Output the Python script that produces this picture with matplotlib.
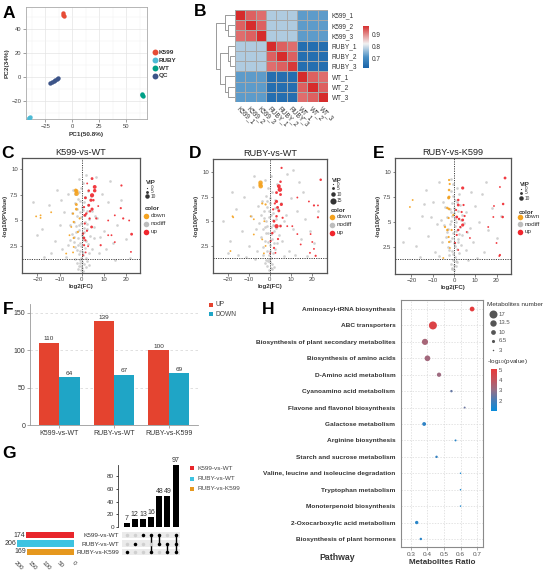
import numpy as np
import matplotlib
matplotlib.use('Agg')
import matplotlib.pyplot as plt
from matplotlib.colors import LinearSegmentedColormap

plt.rcParams['font.family'] = ['Liberation Sans', 'DejaVu Sans']
plt.rcParams['axes.linewidth'] = 0.6

# ======================= DATA =======================
# --- A: PCA ---
pca_groups = ['K599', 'RUBY', 'WT', 'QC']
pca_colors = ['#E64B35', '#4DBBD5', '#00A087', '#3C5488']
pc1_k599 = [-8.8, -8.5, -8.2]
pc2_k599 = [53.5, 52.0, 50.5]
pc1_ruby = [-40.6, -40.0, -39.4]
pc2_ruby = [-34.4, -34.0, -33.6]
pc1_wt = [64.0, 64.8, 65.4]
pc2_wt = [-14.2, -15.0, -15.8]
pc1_qc = [-20.5, -19.0, -17.5, -16.0, -14.5, -13.5]
pc2_qc = [-4.6, -3.9, -3.1, -2.4, -1.7, -1.1]

# --- B: correlation heatmap ---
samples = ['K599_1', 'K599_2', 'K599_3', 'RUBY_1', 'RUBY_2', 'RUBY_3', 'WT_1', 'WT_2', 'WT_3']
corr = [
    [0.97, 0.93, 0.92, 0.775, 0.775, 0.775, 0.72, 0.72, 0.72],
    [0.93, 0.97, 0.93, 0.775, 0.775, 0.775, 0.72, 0.72, 0.72],
    [0.92, 0.93, 0.97, 0.775, 0.775, 0.775, 0.72, 0.72, 0.72],
    [0.775, 0.775, 0.775, 0.97, 0.93, 0.92, 0.64, 0.64, 0.64],
    [0.775, 0.775, 0.775, 0.93, 0.97, 0.93, 0.64, 0.64, 0.64],
    [0.775, 0.775, 0.775, 0.92, 0.93, 0.96, 0.64, 0.64, 0.64],
    [0.72, 0.72, 0.72, 0.64, 0.64, 0.64, 0.97, 0.93, 0.92],
    [0.72, 0.72, 0.72, 0.64, 0.64, 0.64, 0.93, 0.97, 0.93],
    [0.72, 0.72, 0.72, 0.64, 0.64, 0.64, 0.92, 0.93, 0.97],
]
# dendrogram: (height, left, right)
row_tree = (1.0,
            (0.55, 'K599_1', (0.35, 'K599_2', 'K599_3')),
            (0.78, (0.35, 'RUBY_1', (0.25, 'RUBY_2', 'RUBY_3')),
                   (0.55, 'WT_1', (0.35, 'WT_2', 'WT_3'))))

# --- C/D/E: volcano plots (x=log2FC, y=-log10 P, vip) ---
c_gray = [(-0.5,0.2),(0.3,0.4),(-1.2,0.6),(1.0,0.8),(0.2,1.0),(-0.8,1.2),(1.8,0.5),(-2.0,0.9),(2.5,1.1),(-0.3,1.4),
          (0.6,0.1),(-1.5,0.3),(3.2,0.7),(-3.0,1.3),(-1.0,1.7),(0.8,1.9),(-2.2,2.1),(1.5,2.3),(-0.4,2.5),(2.8,2.7),
          (-3.5,2.9),(0.4,3.1),(-1.8,3.3),(3.9,3.5),(-4.2,3.7),(1.2,3.9),(-0.7,2.0),(2.0,3.0),(-2.8,2.4),(4.5,2.2),
          (-5.1,3.1),(0.0,3.6),(5.5,3.3),(-6.0,2.6),(-1.3,4.1),(0.9,4.3),(-2.5,4.5),(2.2,4.7),(-3.6,4.9),(3.4,5.1),
          (-0.5,5.3),(1.6,5.5),(-4.5,5.7),(4.8,5.9),(-1.9,6.1),(0.3,6.3),(2.7,6.5),(-3.0,6.7),(-0.9,6.9),(5.6,4.4),
          (-5.5,4.6),(6.2,5.4),(-1.6,7.1),(1.4,7.3),(-2.8,7.6),(3.0,7.9),(-0.4,8.2),(0.8,8.6),(-1.1,9.0),(2.1,9.4),
          (-4.0,8.0),(4.2,7.4),(-12,3.0),(-15,6.5),(-9,2.2),(-18,4.2),(-8,5.8),(-11,8.0),(-22,6.8),(-7,1.5),
          (-14,1.8),(-10,4.6),(8,1.8),(10,4.0),(12,6.8),(14,2.8),(9,7.6),(16,4.6),(11,2.2),(7,5.2),
          (18,7.0),(20,3.2),(13,8.8),(-6,7.6),(6.5,9.2),(-17,1.5),(22,1.4),(-20,3.6),(15,1.2),(8.5,3.4),(-9.5,7.0),
          (-0.2,0.6),(0.4,1.6),(-0.9,2.8),(0.7,3.4),(-1.4,4.6),(1.3,4.9),(-0.6,5.8),(0.5,6.0),(-1.7,2.6),(1.9,1.4),
          (-2.4,3.9),(2.5,4.2),(-0.1,4.8),(-2.1,5.4),(2.3,5.9),(-1.2,7.8),(1.1,6.8),(-3.3,3.4),(3.1,1.8),(-0.8,0.9)]
c_up = [(4.7,9.07,5),(5.9,8.26,8),(5.9,7.9,7),(4.7,7.45,9),(3.2,7.9,4),(1.7,7.2,5),(4.2,6.97,6),(5.3,6.97,4),
        (3.2,6.48,5),(1.06,6.3,3),(4.7,6.1,6),(2.1,5.67,4),(1.4,5.5,5),(3.6,5.2,3),(6.6,5.2,3),(1.4,4.7,3),
        (4.5,4.37,5),(0.6,3.73,4),(1.7,3.08,3),(1.1,2.6,3),(2.9,2.5,2),(0.6,1.63,2),(1.8,1.9,2),(8.6,2.6,3),
        (12,5.0,2),(12,3.57,2),(13.5,3.57,2),(15,2.9,2),(17.7,6.2,3),(18.8,5.2,3),(21.5,5.0,2),(22.6,3.67,5),
        (22.3,1.95,2),(18,8.4,3),(15,5.5,2),(2.5,8.6,2),(3.8,5.9,4),(2.4,4.0,3),(7.5,6.4,2),(1.0,3.3,5)]
c_down = [(-2.4,7.85,9),(-2.3,7.6,10),(-2.7,7.95,6),(-2.4,6.55,5),(-2.4,6.1,5),(-3.9,5.67,3),(-3.6,4.86,3),
          (-4.7,4.37,2),(-1.7,3.89,3),(-3.6,3.3,3),(-3.6,2.43,2),(-7,1.79,2),(-3.9,1.9,2),(-20.6,5.4,2),
          (-18.6,5.5,2),(-18.6,5.25,2),(-13.8,5.8,2),(-5.5,3.57,2),(-0.9,5.2,3)]

d_gray = [(-0.3,0.1),(0.5,0.3),(-1.0,0.5),(1.2,0.7),(0.0,0.9),(-1.6,1.1),(2.0,0.4),(-2.4,0.8),(0.8,1.3),(-0.5,1.6),
          (1.6,1.8),(-1.3,2.0),(2.6,2.2),(-3.0,2.4),(0.2,2.6),(3.5,2.8),(-2.0,3.0),(1.0,3.2),(-4.0,3.4),(4.4,3.6),
          (-0.8,3.8),(2.2,4.0),(-3.3,4.2),(0.6,4.4),(5.0,4.6),(-5.0,4.8),(-1.8,5.0),(3.0,5.2),(-0.2,5.4),(-4.2,5.6),
          (1.8,5.8),(-2.6,6.0),(4.0,6.2),(-1.0,6.4),(0.4,6.8),(-3.6,7.0),(2.6,7.2),(-1.5,7.6),(1.2,8.0),(-0.6,8.4),
          (3.6,8.8),(-2.2,9.2),(0.8,9.6),(-6.0,2.0),(6.0,3.0),(-6.5,4.2),(6.8,5.0),(-5.5,6.5),(5.5,6.8),(7.0,1.5),
          (-7.0,1.2),(-10,2.5),(-13,4.0),(-16,6.2),(-9,5.5),(-12,7.5),(-19,3.0),(-8,8.5),(-15,1.6),(-11,1.4),
          (-22,5.0),(9,2.0),(11,4.2),(13,6.0),(10,7.4),(15,3.2),(8,5.6),(17,5.2),(12,1.6),(19,4.0),
          (16,8.0),(21,2.8),(14,9.0),(-7.5,9.6),(8.5,9.8),(23,6.0),(-18,8.0),(18,1.5),(-20,1.8),(11,10.2),
          (-0.1,1.2),(0.3,2.0),(-0.7,2.9),(0.9,3.7),(-1.2,4.5),(1.4,5.1),(-0.4,6.0),(0.1,7.4),(-1.9,3.8),(2.0,2.8),
          (-2.5,5.3),(2.4,6.3),(-0.9,1.0),(1.1,0.2),(-3.1,1.6),(3.2,4.3),(-1.1,7.0),(0.6,5.6),(-2.2,4.4),(1.6,4.6)]
d_up = [(5.7,10.4,3),(24.3,9.2,4),(5.2,9.0,4),(4.4,8.55,8),(4.9,8.2,10),(3.3,7.9,5),(5.2,7.7,5),(3.3,7.0,6),
        (5.6,6.7,6),(3.8,6.4,5),(1.7,6.2,3),(4.4,6.05,5),(3.3,5.5,4),(6.2,5.35,3),(2.1,5.0,5),(3.3,4.5,9),
        (5.2,4.5,4),(1.3,3.8,4),(0.5,3.0,3),(2.1,2.3,3),(2.8,1.8,2),(0.3,1.75,2),(8.4,4.5,2),(10.8,4.5,2),
        (13.2,7.4,2),(18.7,7.0,2),(21.1,6.6,3),(23,6.6,2),(23,5.4,3),(19.5,3.7,2),(20.3,2.9,2),(21.1,2.2,2),
        (19.2,1.8,2),(21.9,1.5,3),(13.2,3.7,2),(14.8,2.65,2),(2.5,6.8,3),(4.0,3.2,3)]
d_down = [(-4.3,8.9,10),(-4.2,8.55,10),(-4.4,8.7,8),(-3.5,6.8,3),(-1.9,6.7,3),(-9.0,5.5,2),(-17.3,5.4,2),
          (-17.6,5.5,2),(-7.5,3.66,2),(-3.5,3.16,2),(-1.9,2.5,2),(-18.6,1.98,2),(-2.7,1.75,2),(-7.5,5.2,2),(-2.5,5.0,2)]

e_gray = [(0.0,0.2),(-0.8,0.4),(0.9,0.6),(-1.5,0.8),(1.6,1.0),(-0.3,1.2),(0.5,1.5),(-2.2,1.7),(2.3,1.9),(-1.0,2.1),
          (1.2,2.3),(-3.0,2.5),(3.2,2.7),(0.2,2.9),(-1.8,3.1),(2.0,3.3),(-3.8,3.5),(4.0,3.7),(-0.6,3.9),(1.0,4.1),
          (-2.6,4.3),(2.8,4.5),(-4.6,4.7),(4.8,4.9),(-1.3,5.1),(0.4,5.3),(-3.2,5.5),(3.6,5.7),(-0.2,5.9),(1.8,6.1),
          (-2.0,6.3),(-4.0,6.5),(3.0,6.7),(-0.9,6.9),(0.7,7.2),(-2.8,7.5),(2.2,7.8),(-1.4,8.1),(1.4,8.4),(-0.3,8.8),
          (-5.5,3.0),(5.5,2.2),(-6.0,5.2),(6.2,4.0),(-5.2,7.0),(5.8,6.0),(-6.8,1.6),(6.8,1.2),(-9,2.0),(-12,3.6),
          (-15,5.6),(-10,7.0),(-18,2.6),(-8,4.8),(-13,8.2),(-21,4.4),(-16,1.5),(-11,5.5),(9,3.0),(12,5.0),
          (14,2.0),(10,6.6),(16,4.2),(8,8.0),(18,6.4),(13,7.8),(20,3.4),(11,1.4),(15,9.0),(-7,9.0),
          (7.5,4.4),(-14,6.8),(22,5.6),(-24,3.0),
          (0.1,0.7),(-0.4,1.8),(0.6,2.6),(-1.1,3.4),(0.3,4.6),(-0.7,5.6),(1.1,5.0),(-1.6,6.0),(0.2,6.4),(-0.5,7.6),
          (1.7,3.0),(-2.4,2.2),(2.6,3.8),(-1.9,4.8),(1.5,7.0),(-0.9,0.3),(0.8,1.1),(-3.4,4.0),(3.4,5.2),(-1.2,9.3)]
e_up = [(24,9.4,5),(21.6,8.5,2),(23.1,6.8,4),(18.8,6.6,2),(22.9,5.5,4),(18.5,5.5,2),(20,2.9,2),(21.6,1.7,3),
        (21.3,1.6,2),(16.1,4.5,2),(4.1,8.4,6),(2.0,7.2,4),(2.0,6.7,5),(4.5,6.7,3),(3.6,6.0,3),(1.3,5.5,5),
        (4.1,4.7,6),(2.0,4.2,4),(1.3,3.7,3),(6.0,4.0,2),(0.5,2.9,3),(2.0,2.2,2),(7.5,3.4,2),(4.1,5.2,5),
        (2.4,5.3,4),(3.0,4.5,3),(1.0,6.2,3),(5.0,5.6,3)]
e_down = [(-2.3,9.2,3),(-2.3,8.2,4),(-2.3,7.5,5),(-2.5,7.4,5),(-3.1,6.4,4),(-2.3,6.3,4),(-2.5,5.4,3),(-0.3,5.7,3),
          (-4.2,4.5,3),(-3.1,4.2,4),(-2.5,3.5,3),(-2.3,3.0,3),(-1.9,2.4,2),(-5.0,1.4,2),(-19.4,7.2,2),
          (-20.7,6.5,2),(-1.1,4.2,3),(-2.0,8.8,3)]

# --- F: DE counts ---
comparisons = ['K599-vs-WT', 'RUBY-vs-WT', 'RUBY-vs-K599']
up_counts = [110, 139, 100]
down_counts = [64, 67, 69]

# --- G: UpSet ---
set_names = ['K599-vs-WT', 'RUBY-vs-WT', 'RUBY-vs-K599']
set_sizes = [174, 206, 169]
set_colors = ['#E8262B', '#3DC3E1', '#E6981E']
inter_counts = [7, 12, 13, 16, 48, 49, 97]
inter_members = [[2], [1], [0], [0, 2], [0, 1], [1, 2], [0, 1, 2]]

# --- H: KEGG enrichment ---
pathways = ['Aminoacyl-tRNA biosynthesis', 'ABC transporters',
            'Biosynthesis of plant secondary metabolites', 'Biosynthesis of amino acids',
            'D-Amino acid metabolism', 'Cyanoamino acid metabolism',
            'Flavone and flavonol biosynthesis', 'Galactose metabolism',
            'Arginine biosynthesis', 'Starch and sucrose metabolism',
            'Valine, leucine and isoleucine degradation', 'Tryptophan metabolism',
            'Monoterpenoid biosynthesis', '2-Oxocarboxylic acid metabolism',
            'Biosynthesis of plant hormones']
path_ratio = [0.67, 0.433, 0.385, 0.40, 0.47, 0.545, 0.625, 0.38, 0.57, 0.455, 0.60, 0.60, 0.60, 0.335, 0.36]
path_number = [10, 17, 13, 12, 9, 5, 4, 8, 4, 5, 3, 3, 3, 7, 5]
path_logp = [5.0, 4.7, 3.4, 3.3, 3.2, 2.4, 2.5, 1.6, 1.5, 1.7, 1.3, 1.3, 1.3, 1.5, 1.5]
size_breaks = [17, 13.5, 10, 6.5, 3]

# ======================= FIGURE =======================
W, H = 550, 576
fig = plt.figure(figsize=(W / 100, H / 100), dpi=100)


def axpx(l, t, r, b, **kw):
    return fig.add_axes([l / W, 1 - b / H, (r - l) / W, (b - t) / H], **kw)


TXT = '#333333'

# ---------------- A ----------------
axA = axpx(26, 7, 147, 119)
pcx = [pc1_k599, pc1_ruby, pc1_wt, pc1_qc]
pcy = [pc2_k599, pc2_ruby, pc2_wt, pc2_qc]
for xs, ys, col in zip(pcx, pcy, pca_colors):
    axA.scatter(xs, ys, s=10, color=col, linewidths=0, zorder=3)
axA.set_xlim(-43, 69)
axA.set_ylim(-35, 58.3)
axA.set_xticks([-25, 0, 25, 50])
axA.set_yticks([-20, 0, 20, 40])
axA.set_xticks([-37.5, -12.5, 12.5, 37.5, 62.5], minor=True)
axA.set_yticks([-30, -10, 10, 30, 50], minor=True)
axA.grid(which='major', color='#E4E4E4', lw=0.5)
axA.grid(which='minor', color='#F1F1F1', lw=0.35)
axA.set_axisbelow(True)
axA.tick_params(which='minor', length=0)
axA.tick_params(which='major', length=2, width=0.5, color='#777', labelsize=4.2, labelcolor='#444', pad=1.5)
for s in axA.spines.values():
    s.set_color('#AAAAAA')
axA.set_xlabel('PC1(50.8%)', fontsize=4.6, fontweight='bold', labelpad=2, color=TXT)
axA.set_ylabel('PC2(34%)', fontsize=4.6, fontweight='bold', labelpad=1, color=TXT)

# ---------------- B ----------------
cmap_b = LinearSegmentedColormap.from_list('b', [(0, '#1B65AA'), (0.25, '#4A90C5'), (0.57, '#F2F2F2'),
                                                 (1, '#D62C2C')])
axB = axpx(235, 10, 328, 102)
M = np.array(corr)
axB.pcolormesh(M, cmap=cmap_b, vmin=0.62, vmax=0.97, edgecolors='#A8A8A8', linewidth=0.4)
axB.set_xlim(0, 9)
axB.set_ylim(9, 0)
axB.set_yticks(np.arange(9) + 0.5)
axB.set_yticklabels(samples, fontsize=4.7, color=TXT)
axB.yaxis.tick_right()
axB.set_xticks(np.arange(9) + 0.5)
axB.set_xticklabels(samples, rotation=-45, ha='left', va='top', rotation_mode='anchor', fontsize=4.7, color=TXT)
axB.tick_params(length=0, pad=2.5)
for s in axB.spines.values():
    s.set_visible(False)

axD0 = axpx(215, 10, 235, 102)
axD0.set_xlim(1.05, 0)
axD0.set_ylim(9, 0)
axD0.axis('off')
leaf_idx = {n: i for i, n in enumerate(samples)}


def draw_tree(ax, node):
    if isinstance(node, str):
        return leaf_idx[node] + 0.5, 0.0
    h, left, right = node
    y1, h1 = draw_tree(ax, left)
    y2, h2 = draw_tree(ax, right)
    ax.plot([h1, h, h, h2], [y1, y1, y2, y2], color='#8A8A8A', lw=0.6, solid_capstyle='butt')
    return (y1 + y2) / 2, h


draw_tree(axD0, row_tree)

axBc = axpx(363, 26, 369, 68)
grad = np.linspace(0.617, 0.967, 256).reshape(-1, 1)
axBc.imshow(grad, aspect='auto', cmap=cmap_b, vmin=0.62, vmax=0.97, origin='lower', extent=[0, 1, 0.617, 0.967])
axBc.set_xticks([])
axBc.yaxis.tick_right()
axBc.set_yticks([0.7, 0.8, 0.9])
axBc.set_yticklabels(['0.7', '0.8', '0.9'], fontsize=4.7, color=TXT)
axBc.tick_params(length=0, pad=2)
for s in axBc.spines.values():
    s.set_visible(False)

# ---------------- C / D / E volcano ----------------
UPC, DOWNC, GRAYC = '#F0262D', '#F4A21F', '#BDBDBD'


def vsize(v):
    d = 1.2 + 0.33 * v
    return (d * 0.72) ** 2


def volcano(box, gray, up, down, xlim, ylim, title):
    ax = axpx(*box)
    gx = [p[0] for p in gray]
    gy = [p[1] for p in gray]
    ax.scatter(gx, gy, s=3.6, color=GRAYC, linewidths=0, alpha=0.7, zorder=2)
    for pts, col in ((down, DOWNC), (up, UPC)):
        ax.scatter([p[0] for p in pts], [p[1] for p in pts], s=[vsize(p[2]) for p in pts],
                   color=col, linewidths=0, alpha=0.9, zorder=3)
    ax.axvline(0, color='#444', lw=0.7, ls=(0, (1.2, 1.2)), zorder=4)
    ax.axhline(1.3, color='#444', lw=0.7, ls=(0, (1.2, 1.2)), zorder=4)
    ax.set_xlim(*xlim)
    ax.set_ylim(*ylim)
    ax.set_xticks([-20, -10, 0, 10, 20])
    ax.set_yticks([2.5, 5, 7.5, 10])
    ax.set_yticklabels(['2.5', '5', '7.5', '10'])
    ax.tick_params(length=1.8, width=0.5, color='#555', labelsize=4.3, labelcolor='#444', pad=1.2)
    for s in ax.spines.values():
        s.set_color('#555')
        s.set_linewidth(0.9)
    ax.set_title(title, fontsize=6.6, pad=2.5, color='#222')
    ax.set_xlabel('log2(FC)', fontsize=4.4, fontweight='bold', labelpad=1.5, color=TXT)
    ax.set_ylabel('-log10(PValue)', fontsize=4.4, fontweight='bold', labelpad=1.5, color=TXT)
    return ax


volcano((22, 158, 140, 273), c_gray, c_up, c_down, (-27, 26.4), (-0.1, 11.07), 'K599-vs-WT')
volcano((213, 159, 327, 273), d_gray, d_up, d_down, (-26.9, 27.3), (-0.24, 11.3), 'RUBY-vs-WT')
volcano((395, 158, 511, 274), e_gray, e_up, e_down, (-27.7, 26.8), (-0.2, 11.4), 'RUBY-vs-K599')

# ---------------- F ----------------
UPF, DOWNF = '#E4432F', '#1FA5C6'
axF = axpx(30, 304, 198, 425)
xf = np.arange(len(comparisons))
bw = 0.373
axF.bar(xf - bw / 2, up_counts, bw, color=UPF, zorder=3)
axF.bar(xf + bw / 2, down_counts, bw, color=DOWNF, zorder=3)
for xi, u, d in zip(xf, up_counts, down_counts):
    axF.text(xi - bw / 2, u + 2, str(u), ha='center', va='bottom', fontsize=4.6, color=TXT)
    axF.text(xi + bw / 2, d + 2, str(d), ha='center', va='bottom', fontsize=4.6, color=TXT)
axF.set_xlim(-0.53, 2.53)
axF.set_ylim(0, 162)
axF.set_yticks([0, 50, 100, 150])
axF.set_xticks(xf)
axF.set_xticklabels(comparisons)
axF.yaxis.grid(True, color='#DADADA', lw=0.6, ls=(0, (3, 3)))
axF.set_axisbelow(True)
for k in ('top', 'right'):
    axF.spines[k].set_visible(False)
for k in ('left', 'bottom'):
    axF.spines[k].set_color('#999')
axF.tick_params(length=2, width=0.5, color='#888', labelsize=5, labelcolor='#333', pad=1.5)

# ---------------- G ----------------
xg_lim = (-1.053, 6.66)
axG = axpx(118, 465, 181, 527)
xi = np.arange(len(inter_counts))
axG.bar(xi, inter_counts, 0.73, color='black')
for x0, v in zip(xi, inter_counts):
    axG.text(x0, v + 1.5, str(v), ha='center', va='bottom', fontsize=5, color=TXT, clip_on=False)
axG.set_xlim(*xg_lim)
axG.set_ylim(0, 97.3)
axG.set_yticks([0, 20, 40, 60, 80])
axG.set_xticks([])
for k in ('top', 'right', 'bottom'):
    axG.spines[k].set_visible(False)
axG.spines['left'].set_color('#333')
axG.tick_params(length=1.8, width=0.5, labelsize=4.6, labelcolor='#333', pad=1)

axM = axpx(121, 530, 181, 557)
axM.set_xlim(-0.69, 6.66)
axM.set_ylim(2.59, -0.59)
nrow = len(set_names)
axM.barh(np.arange(nrow), [7.08] * nrow, left=-0.58, height=0.72, color='#EBEBEB', zorder=1)
for c, mem in enumerate(inter_members):
    for r in range(nrow):
        on = r in mem
        axM.scatter(c, r, s=6.5, color='black' if on else '#CFCFCF', linewidths=0, zorder=3)
    if len(mem) > 1:
        axM.plot([c, c], [min(mem), max(mem)], color='black', lw=1.0, zorder=2)
axM.set_yticks(np.arange(nrow))
axM.set_yticklabels(set_names, fontsize=4.6, color=TXT)
axM.set_xticks([])
axM.tick_params(length=0, pad=1.2)
for s in axM.spines.values():
    s.set_visible(False)

axS = axpx(16, 530, 74, 557)
axS.barh(np.arange(nrow), set_sizes, height=0.72, color=set_colors)
for r, v in enumerate(set_sizes):
    axS.text(v + 4, r, str(v), ha='right', va='center', fontsize=5, color=TXT, clip_on=False)
axS.set_xlim(210, 0)
axS.set_ylim(2.59, -0.59)
axS.set_yticks([])
axS.set_xticks([200, 150, 100, 50, 0])
axS.set_xticklabels(['200', '150', '100', '50', '0'], rotation=-45, ha='center', va='top')
axS.tick_params(length=0, labelsize=4.5, labelcolor='#333', pad=2.5)
for s in axS.spines.values():
    s.set_visible(False)

# ---------------- H ----------------
cmap_h = LinearSegmentedColormap.from_list('h', [(0, '#0A8CDA'), (0.25, '#4A7DB5'), (0.5, '#976F86'),
                                                 (0.75, '#C6535C'), (1, '#E8393A')])


def hsize(n):
    d = 1.5 + (n - 3) / 14 * 6.5
    return (d * 0.72) ** 2


axH = axpx(401, 300, 483, 547)
yh = np.arange(len(pathways))
axH.scatter(path_ratio, yh, s=[hsize(n) for n in path_number], c=path_logp, cmap=cmap_h,
            vmin=1.0, vmax=5.1, linewidths=0, zorder=3)
axH.set_xlim(0.24, 0.736)
axH.set_ylim(14.49, -0.55)
axH.set_yticks(yh)
axH.set_yticklabels(pathways, fontsize=4.65, fontweight='bold', color=TXT)
axH.set_xticks([0.3, 0.4, 0.5, 0.6, 0.7])
axH.grid(True, color='#D8D8D8', lw=0.5, ls=(0, (2, 2)))
axH.set_axisbelow(True)
axH.tick_params(axis='y', length=0, pad=4)
axH.tick_params(axis='x', length=1.8, width=0.5, color='#888', labelsize=4.6, labelcolor='#555', pad=1.5)
for s in axH.spines.values():
    s.set_color('#8A8A8A')
    s.set_linewidth(0.8)
axH.set_xlabel('Metabolites Ratio', fontsize=5.8, fontweight='bold', labelpad=2, color=TXT)

axHc = axpx(491, 369, 497, 411)
gradh = np.linspace(0.97, 5.1, 256).reshape(-1, 1)
axHc.imshow(gradh, aspect='auto', cmap=cmap_h, vmin=1.0, vmax=5.1, origin='lower', extent=[0, 1, 0.97, 5.1])
axHc.set_xticks([])
axHc.yaxis.tick_right()
axHc.set_yticks([2, 3, 4, 5])
axHc.tick_params(length=0, pad=1.5, labelsize=4.3, labelcolor='#555')
for s in axHc.spines.values():
    s.set_visible(False)

# ---------------- overlay: letters & legends ----------------
ov = fig.add_axes([0, 0, 1, 1], zorder=10)
ov.set_xlim(0, W)
ov.set_ylim(H, 0)
ov.axis('off')

for lab, (x, y) in zip('ABCDEFGH', [(9, 13), (200, 12), (8, 153), (195, 153), (379, 153),
                                     (8, 310), (9, 453), (268, 309)]):
    ov.text(x, y, lab, fontsize=12.5, fontweight='bold', ha='center', va='center', color='black')

# A legend
for g, col, y in zip(pca_groups, pca_colors, [52, 60, 68, 76]):
    ov.scatter(155, y, s=18, color=col, linewidths=0)
    ov.text(159, y, g, fontsize=4.6, fontweight='bold', va='center', color=TXT)


# volcano legends
def vlegend(xm, xt, yvip, vips, vys, ycol, cys):
    ov.text(xm, yvip, 'VIP', fontsize=4.4, fontweight='bold', va='center', color=TXT)
    for v, yy in zip(vips, vys):
        ov.scatter(xm + 1, yy, s=vsize(v), color='#333', linewidths=0)
        ov.text(xt, yy, str(v), fontsize=3.4, va='center', color=TXT)
    ov.text(xm - 1, ycol, 'color', fontsize=4.4, fontweight='bold', va='center', color=TXT)
    for lab, col, yy in zip(['down', 'nodiff', 'up'], [DOWNC, GRAYC, UPC], cys):
        ov.scatter(xm, yy, s=16, color=col, linewidths=0)
        ov.text(xt, yy, lab, fontsize=4.6, va='center', color=TXT)


vlegend(146, 150.5, 183, [0, 5, 10], [187.5, 191.5, 196], 209, [215.5, 223.5, 231.5])
vlegend(332, 336.5, 180, [0, 5, 10, 15], [184, 188, 194, 201], 211, [216.5, 224.5, 232.5])
vlegend(520, 524.5, 184, [0, 5, 10], [188.5, 192.5, 198], 212, [216.5, 224, 232])

# F legend
for lab, col, y in zip(['UP', 'DOWN'], [UPF, DOWNF], [305, 314]):
    ov.scatter(210.5, y, s=11, marker='s', color=col, linewidths=0)
    ov.text(215, y, lab, fontsize=4.8, va='center', color='#444')

# G legend
for lab, col, y in zip(set_names, set_colors, [468, 479, 489]):
    ov.scatter(192, y, s=9, marker='s', color=col, linewidths=0)
    ov.text(197, y, lab, fontsize=4.6, va='center', color='#444')

# H legends
ov.text(487, 305, 'Metabolites number', fontsize=4.6, va='center', color=TXT)
for n, y in zip(size_breaks, [314, 323, 332, 341, 350]):
    ov.scatter(493, y, s=hsize(n), color='#555', linewidths=0)
    ov.text(499, y, f'{n:g}', fontsize=4.3, va='center', color='#555')
ov.text(487, 362, '-log$_{10}$(pvalue)', fontsize=4.6, va='center', color=TXT)
ov.text(337, 558, 'Pathway', fontsize=6.3, fontweight='bold', ha='center', va='center', color=TXT)

fig.savefig('out.png', dpi=100)
